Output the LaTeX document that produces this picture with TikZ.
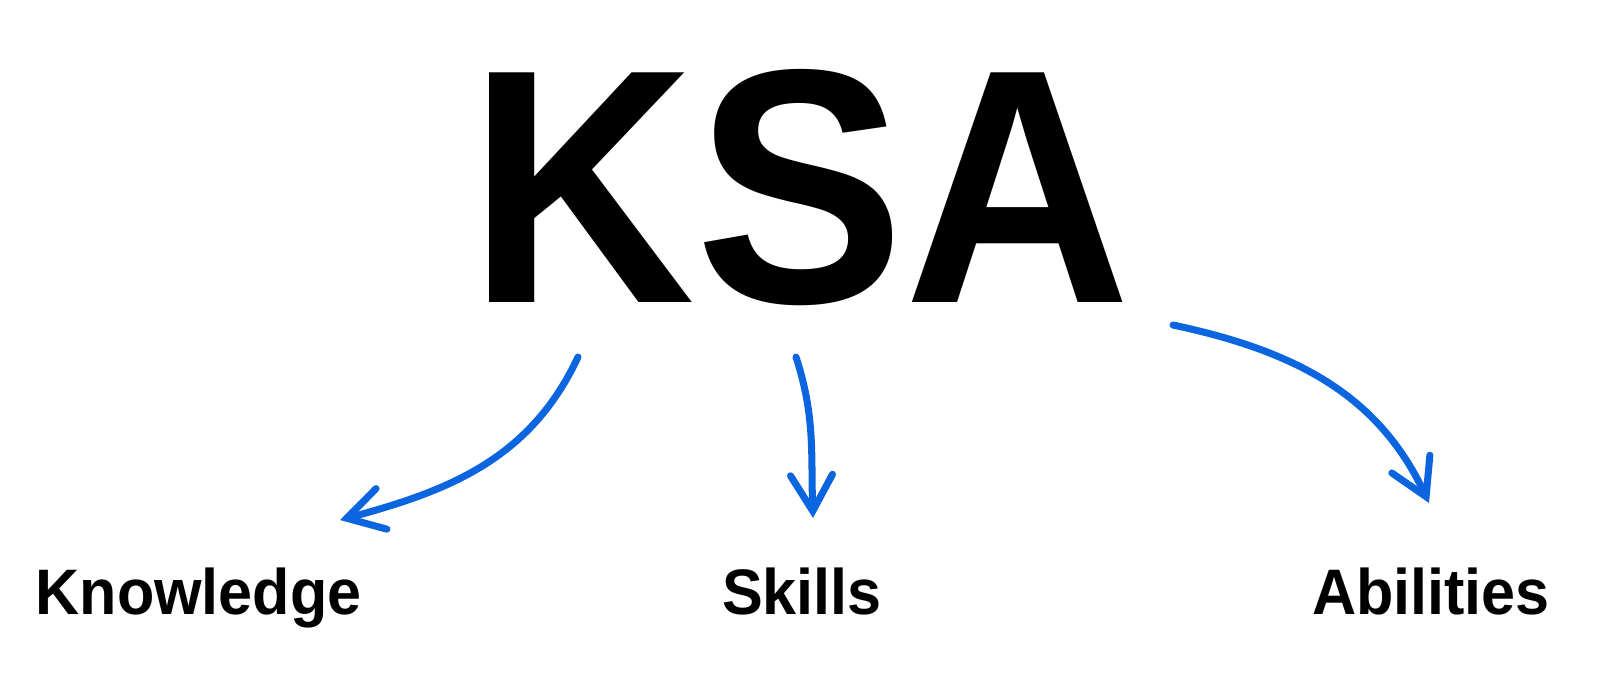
\documentclass[tikz,border=0pt]{standalone}
\usepackage{fontspec}
\setmainfont{Liberation Sans}
\usetikzlibrary{arrows.meta}
\definecolor{arrblue}{HTML}{0B65DE}
\tikzset{
  lab/.style={font=\bfseries\fontsize{18.3}{22}\selectfont,anchor=base,xscale=0.95},
  sk/.style={arrblue,line width=2pt,line cap=round,
    -{Straight Barb[length=3.6mm,width=4.2mm,line cap=round]}}
}
\begin{document}
\begin{tikzpicture}[x=1cm,y=1cm]
\useasboundingbox (0,0) rectangle (16,-6.8);
\node[anchor=base,inner sep=0pt,xscale=0.94,font=\bfseries\fontsize{95}{100}\selectfont] (KSA) at (8.00,-3.02) {KSA};
\node[lab] (K) at (1.985,-6.14) {Knowledge};
\node[lab] (S) at (8.02,-6.14) {Skills};
\node[lab] (Ab) at (14.31,-6.14) {Abilities};
\coordinate (K1) at (5.78,-3.57); \coordinate (K2) at (3.40,-5.20);
\coordinate (S1) at (7.96,-3.57); \coordinate (S2) at (8.13,-5.18);
\coordinate (A1) at (11.73,-3.25); \coordinate (A2) at (14.29,-5.03);
\draw[sk] (K1) to[out=245,in=15] (K2);
\draw[sk] (S1) to[out=-72,in=92] (S2);
\draw[sk] (A1) to[out=-12,in=115] (A2);
\end{tikzpicture}
\end{document}
